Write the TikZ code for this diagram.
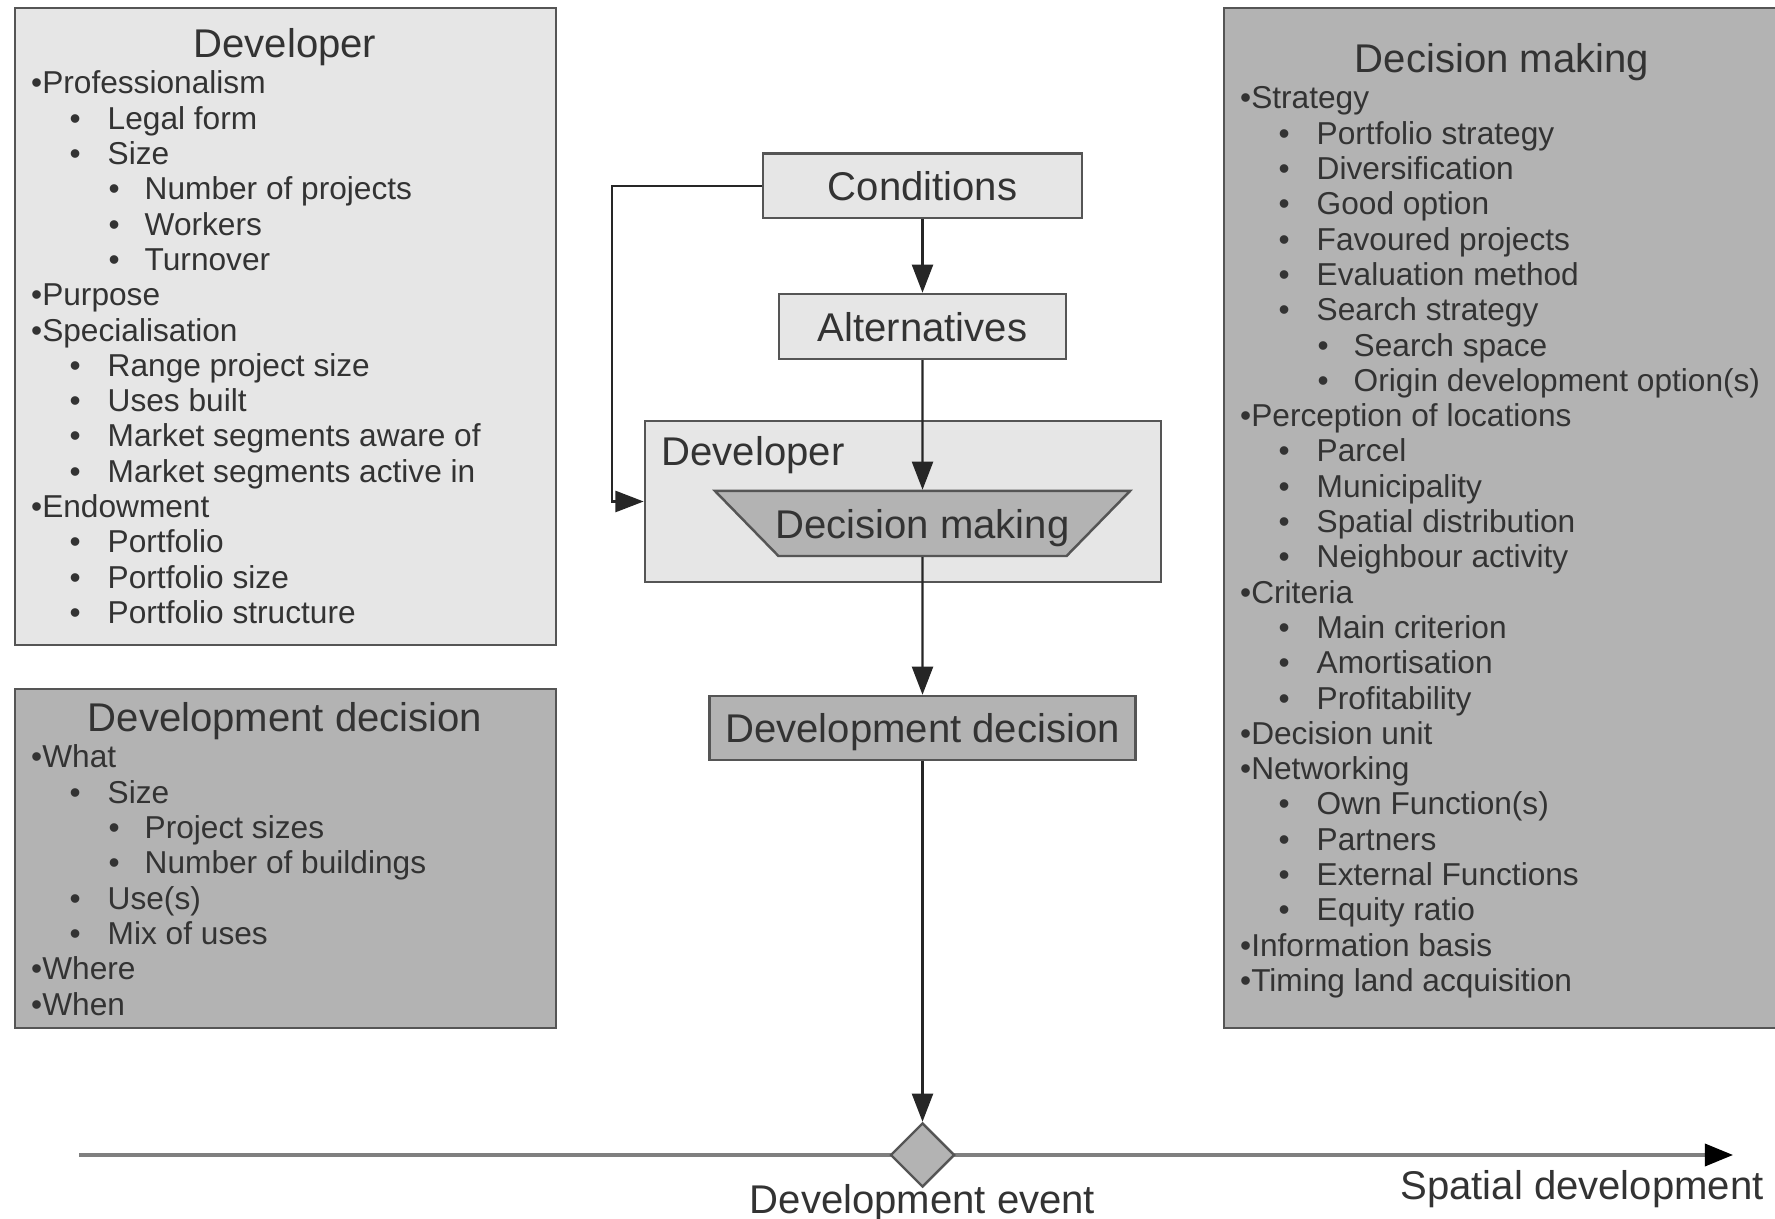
\documentclass[tikz,border=0pt]{standalone}
\usepackage{fontspec}
\setmainfont{Liberation Sans}
\usetikzlibrary{arrows.meta,shapes.geometric}
\definecolor{lightfill}{HTML}{E6E6E6}
\definecolor{darkfill}{HTML}{B3B3B3}
\definecolor{edgegray}{HTML}{555555}
\definecolor{inkgray}{HTML}{333333}
\definecolor{axisgray}{HTML}{7F7F7F}
\tikzset{
  panel/.style={draw=edgegray, line width=0.7pt},
  bigtext/.style={font=\fontsize{11.4}{13}\selectfont, text=inkgray},
  listtext/.style={anchor=base west, inner sep=0pt, font=\fontsize{9}{10}\selectfont, text=inkgray},
  lvlone/.style={listtext},
  lvltwo/.style={listtext, execute at begin node={\makebox[0.38cm][l]{•}}},
  lvlthree/.style={listtext, execute at begin node={\makebox[0.36cm][l]{•}}},
  stepbox/.style={panel, bigtext, fill=lightfill, inner sep=0pt, text depth=0pt},
  flow/.style={draw=black!85, line width=0.6pt, -{Triangle[length=8pt,width=6pt]}},
  axis/.style={draw=axisgray, line width=0.9pt, -{Triangle[length=8pt,width=6.3pt,color=black]}},
}

\begin{document}
\begin{tikzpicture}[x=0.01cm, y=-0.01cm]
\useasboundingbox (0,0) rectangle (1775,1219);
% panels
\filldraw[panel, fill=lightfill] (15,8) rectangle (556,645);
\filldraw[panel, fill=darkfill] (15,689) rectangle (556,1028);
\filldraw[panel, fill=darkfill] (1224,8) rectangle (1790,1028);
% developer panel
\node[bigtext, anchor=base] (devtitle) at (285,58) {Developer};
\node[lvlone] (dev1) at (30.5,94) {•Professionalism};
\node[lvltwo] (dev2) at (69,129.3) {Legal form};
\node[lvltwo] (dev3) at (69,164.6) {Size};
\node[lvlthree] (dev4) at (108,199.9) {Number of projects};
\node[lvlthree] (dev5) at (108,235.2) {Workers};
\node[lvlthree] (dev6) at (108,270.5) {Turnover};
\node[lvlone] (dev7) at (30.5,305.8) {•Purpose};
\node[lvlone] (dev8) at (30.5,341.1) {•Specialisation};
\node[lvltwo] (dev9) at (69,376.4) {Range project size};
\node[lvltwo] (dev10) at (69,411.7) {Uses built};
\node[lvltwo] (dev11) at (69,447) {Market segments aware of};
\node[lvltwo] (dev12) at (69,482.3) {Market segments active in};
\node[lvlone] (dev13) at (30.5,517.6) {•Endowment};
\node[lvltwo] (dev14) at (69,552.9) {Portfolio};
\node[lvltwo] (dev15) at (69,588.2) {Portfolio size};
\node[lvltwo] (dev16) at (69,623.5) {Portfolio structure};
% development decision panel
\node[bigtext, anchor=base] (dectitle) at (285,732) {Development decision};
\node[lvlone] (dec1) at (30.5,768) {•What};
\node[lvltwo] (dec2) at (69,803.3) {Size};
\node[lvlthree] (dec3) at (108,838.6) {Project sizes};
\node[lvlthree] (dec4) at (108,873.9) {Number of buildings};
\node[lvltwo] (dec5) at (69,909.2) {Use(s)};
\node[lvltwo] (dec6) at (69,944.5) {Mix of uses};
\node[lvlone] (dec7) at (30.5,979.8) {•Where};
\node[lvlone] (dec8) at (30.5,1015.1) {•When};
% decision making panel
\node[bigtext, anchor=base] (dmtitle) at (1502,73) {Decision making};
\node[lvlone] (dm1) at (1239.5,109) {•Strategy};
\node[lvltwo] (dm2) at (1278,144.3) {Portfolio strategy};
\node[lvltwo] (dm3) at (1278,179.6) {Diversification};
\node[lvltwo] (dm4) at (1278,214.9) {Good option};
\node[lvltwo] (dm5) at (1278,250.2) {Favoured projects};
\node[lvltwo] (dm6) at (1278,285.5) {Evaluation method};
\node[lvltwo] (dm7) at (1278,320.8) {Search strategy};
\node[lvlthree] (dm8) at (1317,356.1) {Search space};
\node[lvlthree] (dm9) at (1317,391.4) {Origin development option(s)};
\node[lvlone] (dm10) at (1239.5,426.7) {•Perception of locations};
\node[lvltwo] (dm11) at (1278,462) {Parcel};
\node[lvltwo] (dm12) at (1278,497.3) {Municipality};
\node[lvltwo] (dm13) at (1278,532.6) {Spatial distribution};
\node[lvltwo] (dm14) at (1278,567.9) {Neighbour activity};
\node[lvlone] (dm15) at (1239.5,603.2) {•Criteria};
\node[lvltwo] (dm16) at (1278,638.5) {Main criterion};
\node[lvltwo] (dm17) at (1278,673.8) {Amortisation};
\node[lvltwo] (dm18) at (1278,709.1) {Profitability};
\node[lvlone] (dm19) at (1239.5,744.4) {•Decision unit};
\node[lvlone] (dm20) at (1239.5,779.7) {•Networking};
\node[lvltwo] (dm21) at (1278,815) {Own Function(s)};
\node[lvltwo] (dm22) at (1278,850.3) {Partners};
\node[lvltwo] (dm23) at (1278,885.6) {External Functions};
\node[lvltwo] (dm24) at (1278,920.9) {Equity ratio};
\node[lvlone] (dm25) at (1239.5,956.2) {•Information basis};
\node[lvlone] (dm26) at (1239.5,991.5) {•Timing land acquisition};
% flow in the middle
\node[stepbox, minimum width=3.19cm, minimum height=0.645cm] (cond) at (922.5,186) {Conditions};
\node[stepbox, minimum width=2.87cm, minimum height=0.65cm] (alt) at (922.5,326.5) {Alternatives};
\node[panel, fill=lightfill, minimum width=5.16cm, minimum height=1.61cm, inner sep=0pt] (devbox) at (903,501.5) {};
\node[bigtext, anchor=base west, inner sep=0pt] (devlabel) at (661,466) {Developer};
\node[trapezium, trapezium left angle=134.3, trapezium right angle=134.3,
      inner xsep=-0.03cm, inner ysep=0.18cm, text height=0.29cm, text depth=0pt,
      panel, fill=darkfill, bigtext] (dm) at (922.5,523.5) {Decision making};
\node[stepbox, fill=darkfill, minimum width=4.26cm, minimum height=0.64cm] (devdec) at (922.5,728) {Development decision};
% time axis
\coordinate (axisstart) at (79,1155);
\coordinate (axisend) at (1733,1155);
\draw[axis] (axisstart) -- (axisend);
\node[diamond, panel, fill=darkfill, minimum width=0.64cm, minimum height=0.64cm, inner sep=0pt] (event) at (922.5,1155) {};
\node[bigtext, anchor=base] (eventlabel) at (922.5,1213) {Development event};
\node[bigtext, anchor=base] (spatiallabel) at (1582,1199) {Spatial development};
% connectors
\draw[flow] (cond) -- (alt);
\draw[flow] (alt) -- (dm.north);
\draw[flow] (dm.south) -- (devdec.north);
\draw[flow] (devdec) -- (event);
\draw[flow] (cond.west) -- ++(-150,0) |- (devbox.west);
\end{tikzpicture}
\end{document}
